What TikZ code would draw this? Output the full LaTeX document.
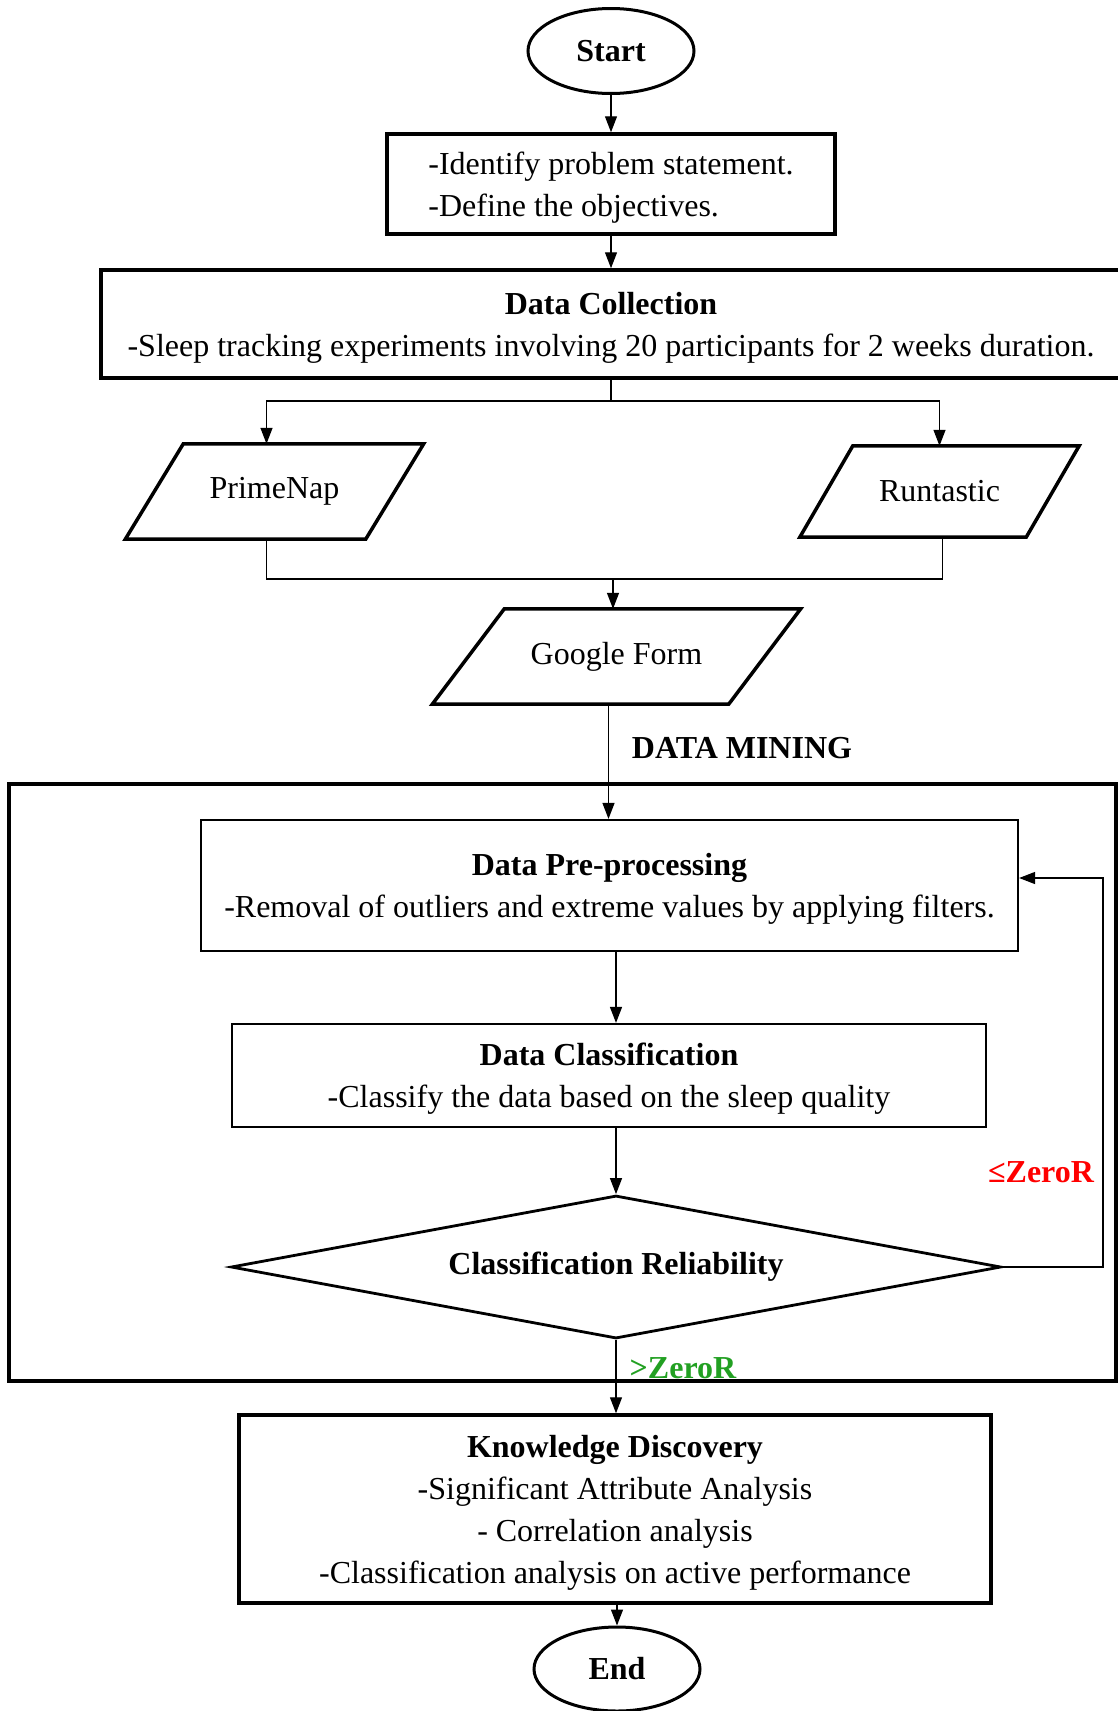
\documentclass[tikz,border=0pt]{standalone}
\usepackage{fontspec}
\setmainfont{Liberation Serif}
\usetikzlibrary{shapes.geometric,arrows.meta}
\definecolor{zeroRred}{RGB}{255,0,0}
\definecolor{zeroRgreen}{RGB}{34,160,34}
\begin{document}
\begin{tikzpicture}[x=1pt,y=-1pt,
	every node/.style={font=\fontsize{32}{42}\selectfont, inner sep=0pt},
	terminal/.style={draw, ellipse, line width=3pt, minimum width=166pt, minimum height=85pt},
	heavybox/.style={draw, rectangle, line width=3.5pt, align=center, text depth=0pt},
	lightbox/.style={draw, rectangle, line width=2.2pt, align=center, text depth=0pt},
	inout/.style={line width=3.5pt},
	decision/.style={draw, diamond, aspect=5.4, line width=2.8pt},
	flow/.style={-{Triangle[length=16pt,width=12pt]}, line width=1.3pt},
	link/.style={line width=1.3pt}]
	\useasboundingbox (0,0) rectangle (1118,1711);
	\coordinate (split) at (611,401);
	\coordinate (merge) at (613,579);
	\coordinate (back) at (1103,878);
	\node[terminal] (start) at (611,51) {\textbf{Start}};
	\node[heavybox, minimum width=448pt, minimum height=100pt, align=left] (aims) at (611,184) {-Identify problem statement.\\-Define the objectives.};
	\node[heavybox, minimum width=1020pt, minimum height=108pt] (collect) at (611,324) {\textbf{Data Collection}\\-Sleep tracking experiments involving 20 participants for 2 weeks duration.};
	% input / output parallelograms
	\node[minimum width=240pt, minimum height=95pt] (primenap) at (274.5,491.5) {PrimeNap};
	\draw[inout] ([xshift=-29pt]primenap.south west) -- ([xshift=29pt]primenap.north west) -- ([xshift=29pt]primenap.north east) -- ([xshift=-29pt]primenap.south east) -- cycle;
	\node[minimum width=226pt, minimum height=91pt] (runtastic) at (939.5,491.5) {Runtastic};
	\draw[inout] ([xshift=-26.5pt]runtastic.south west) -- ([xshift=26.5pt]runtastic.north west) -- ([xshift=26.5pt]runtastic.north east) -- ([xshift=-26.5pt]runtastic.south east) -- cycle;
	\node[minimum width=296pt, minimum height=95pt] (gform) at (616.5,656.5) {Google Form};
	\draw[inout] ([xshift=-36pt]gform.south west) -- ([xshift=36pt]gform.north west) -- ([xshift=36pt]gform.north east) -- ([xshift=-36pt]gform.south east) -- cycle;
	\node[font=\fontsize{32}{42}\selectfont\bfseries] (mining) at (742,748) {DATA MINING};
	% data mining frame
	\draw[line width=3.5pt] (9,784) rectangle (1116,1381);
	\node[lightbox, minimum width=817pt, minimum height=131pt] (preproc) at (609.5,885.5) {\textbf{Data Pre-processing}\\-Removal of outliers and extreme values by applying filters.};
	\node[lightbox, minimum width=754pt, minimum height=103pt] (classify) at (609,1075.5) {\textbf{Data Classification}\\-Classify the data based on the sleep quality};
	\node[decision, minimum width=770pt, minimum height=143pt] (reliable) at (616,1267) {\textbf{Classification Reliability}};
	\node[font=\fontsize{32}{42}\selectfont\bfseries, text=zeroRred] (worse) at (1041,1172) {≤ZeroR};
	\node[font=\fontsize{32}{42}\selectfont\bfseries, text=zeroRgreen] (better) at (683,1368) {>ZeroR};
	\node[heavybox, minimum width=752pt, minimum height=188pt] (knowledge) at (615,1509) {\textbf{Knowledge Discovery}\\-Significant Attribute Analysis\\- Correlation analysis\\-Classification analysis on active performance};
	\node[terminal, minimum height=84pt] (finish) at (617,1669) {\textbf{End}};
	% connectors
	\draw[flow] (start) -- (aims);
	\draw[flow] (aims) -- (aims |- collect.north);
	\draw[link] (split |- collect.south) -- (split);
	\draw[flow] (split) -| ([xshift=-8pt]primenap.north);
	\draw[flow] (split) -| (runtastic.north);
	\draw[link] ([xshift=-8pt]primenap.south) |- (merge) -| ([xshift=3pt]runtastic.south);
	\draw[flow] (merge) -- (merge |- gform.north);
	\draw[flow] ([xshift=-8pt]gform.south) -- ([xshift=-8pt]gform.south |- preproc.north);
	\draw[flow] (reliable.north |- preproc.south) -- (reliable.north |- classify.north);
	\draw[flow] (reliable.north |- classify.south) -- (reliable.north);
	\draw[flow] (reliable.east) -| (back) -- (back -| preproc.east);
	\draw[flow] (reliable.south) -- (reliable.south |- knowledge.north);
	\draw[flow] (knowledge.south -| finish.north) -- (finish.north);
\end{tikzpicture}
\end{document}
